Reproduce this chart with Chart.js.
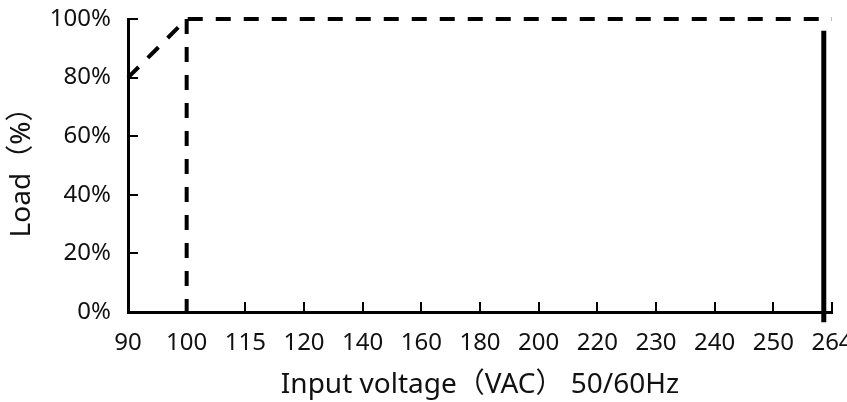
<!DOCTYPE html>
<html>
<head>
<meta charset="utf-8">
<script src="https://cdn.jsdelivr.net/npm/chart.js@4/dist/chart.umd.min.js"></script>
<style>
  html, body { margin: 0; padding: 0; background: #fff; }
  #wrap { width: 847px; height: 402px; }
</style>
</head>
<body>
<div id="wrap"><canvas id="c" width="847" height="402"></canvas></div>
<script>
// ---- data ----
const xLabels = ['90', '100', '115', '120', '140', '160', '180', '200', '220', '230', '240', '250', '264'];
const yTickValues = [0, 20, 40, 60, 80, 100];
// derating curve (x = category index of input voltage, y = load %)
const curveX = [0, 1, 12];
const curveY = [80, 100, 100];
// dashed drop at 100 VAC
const dropX = [1, 1];
const dropY = [100, 0];
// solid cutoff line near the upper voltage limit
const cutoffX = [11.86, 11.86];
const cutoffY = [96, -3.5];

const xTitle = 'Input voltage（VAC） 50/60Hz';
const yTitle = 'Load（%）';

const pts = (xs, ys) => xs.map((x, i) => ({ x: x, y: ys[i] }));

Chart.defaults.font.family = '"Noto Sans", "Noto Sans CJK SC", sans-serif';
Chart.defaults.color = '#111';

const innerTicks = {
  id: 'innerTicks',
  beforeDatasetsDraw(chart) {
    const { ctx, scales: { x, y }, chartArea } = chart;
    ctx.save();
    ctx.strokeStyle = '#000';
    ctx.lineWidth = 2;
    y.ticks.forEach((t, i) => {
      const py = Math.round(y.getPixelForTick(i));
      ctx.beginPath();
      ctx.moveTo(chartArea.left, py);
      ctx.lineTo(chartArea.left + 10, py);
      ctx.stroke();
    });
    x.ticks.forEach((t, i) => {
      const px = Math.round(x.getPixelForTick(i));
      ctx.beginPath();
      ctx.moveTo(px, chartArea.bottom);
      ctx.lineTo(px, chartArea.bottom - 10);
      ctx.stroke();
    });
    ctx.restore();
  }
};

const dashed = { borderColor: '#000', borderWidth: 4, borderDash: [15, 13], borderCapStyle: 'butt',
  pointRadius: 0, fill: false, tension: 0, clip: false };

new Chart(document.getElementById('c'), {
  type: 'line',
  data: {
    datasets: [
      Object.assign({ data: pts(curveX, curveY) }, dashed),
      Object.assign({ data: pts(dropX, dropY) }, dashed),
      { data: pts(cutoffX, cutoffY), borderColor: '#000', borderWidth: 5, pointRadius: 0,
        fill: false, tension: 0, clip: false }
    ]
  },
  options: {
    responsive: false,
    animation: false,
    devicePixelRatio: 1,
    layout: { padding: { left: 0, top: 19, right: 15, bottom: 0 } },
    plugins: { legend: { display: false }, tooltip: { enabled: false } },
    scales: {
      x: {
        type: 'linear',
        min: 0, max: xLabels.length - 1,
        grid: { display: false, drawTicks: false },
        border: { display: true, color: '#000', width: 3 },
        ticks: {
          stepSize: 1, autoSkip: false, maxRotation: 0, padding: 17,
          font: { size: 24 },
          callback: (v) => xLabels[v]
        },
        afterBuildTicks: (s) => { s.ticks = xLabels.map((_, i) => ({ value: i })); },
        title: { display: true, text: xTitle, font: { size: 28 }, padding: { top: 0, bottom: 0 } },
        afterFit: (s) => { s.height = 90; s.paddingLeft = 0; s.paddingRight = 0; }
      },
      y: {
        min: 0, max: 100,
        grid: { display: false, drawTicks: false },
        border: { display: true, color: '#000', width: 3 },
        ticks: { padding: 17, font: { size: 24 }, callback: (v) => v + '%' },
        afterBuildTicks: (s) => { s.ticks = yTickValues.map(v => ({ value: v })); },
        title: { display: true, text: yTitle, font: { size: 28 }, padding: { top: 5, bottom: 0 } },
        afterFit: (s) => { s.width = 128; s.paddingTop = 0; s.paddingBottom = 0; }
      }
    }
  },
  plugins: [innerTicks]
});
</script>
</body>
</html>
